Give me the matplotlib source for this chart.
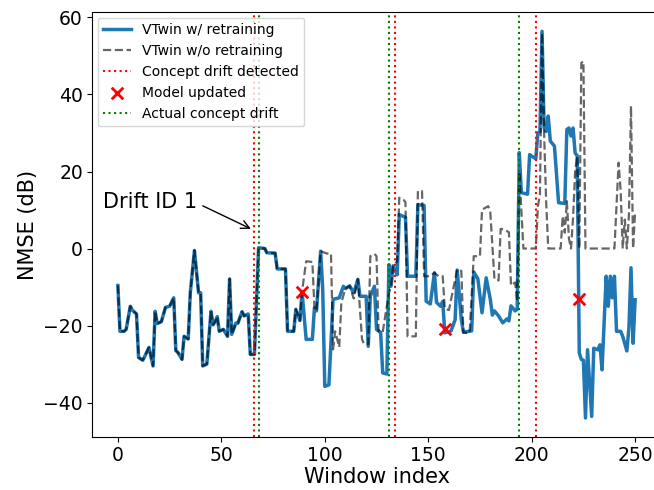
import matplotlib
matplotlib.use("Agg")
import matplotlib.pyplot as plt

# NMSE per window (vertices of the curves), with retraining
retrain_idx = [0, 1, 3, 4, 6, 7, 9, 10, 12, 13, 15, 17, 18, 19, 21, 23, 25, 27, 28, 29,
               31, 32, 34, 35, 37, 39, 40, 41, 43, 45, 46, 47, 48, 49, 51, 53, 54, 55, 57, 58,
               60, 61, 63, 64, 66, 68, 71, 72, 76, 77, 81, 82, 85, 86, 88, 89, 91, 94, 95, 96,
               98, 99, 100, 102, 104, 107, 109, 110, 112, 114, 116, 117, 120, 121, 122, 124, 125, 127, 128, 130,
               131, 132, 133, 135, 136, 139, 140, 144, 145, 148, 149, 151, 153, 154, 156, 157, 158, 161, 163, 164,
               166, 167, 171, 172, 174, 176, 178, 180, 181, 182, 184, 186, 188, 189, 190, 192, 193, 194, 195, 198,
               199, 200, 202, 203, 204, 205, 206, 207, 208, 209, 211, 213, 216, 217, 218, 219, 220, 221, 222, 223,
               224, 225, 226, 227, 229, 230, 232, 233, 234, 236, 237, 238, 239, 240, 241, 243, 244, 246, 247, 248,
               249, 250]
retrain_nmse = [-9.6, -21.5, -21.5, -21, -15, -16, -17, -28.3, -29, -28, -25.7, -30.5, -16.3, -19.5, -19, -15.3, -15, -12.8, -26.5, -27,
                -28.8, -22.8, -23.5, -11.5, -0.5, -11.5, -11.5, -30.5, -30, -16.3, -19.8, -19, -17.7, -21.5, -21, -22.8, -7.9, -22.3, -19.4, -19.4,
                -16.4, -17.5, -17, -27.5, -27.5, 0.2, 0, -1.1, -1.2, -5.3, -5.3, -21.5, -21.5, -15.8, -18.7, -11.2, -23.6, -23.6, -15.4, -16.2,
                -0.7, -10.6, -35.8, -35.4, -13.2, -12.8, -9.8, -10.4, -9.7, -11.5, -8, -12.4, -12.4, -25.4, -12.4, -9.8, -21, -21.8, -32.3, -32.6,
                -4.2, -9.8, -4.5, -6.8, 8.8, 8.1, -7.2, -7.2, 11.4, 11.2, -13.7, -14.4, -6.3, -14, -15, -13.7, -21.9, -21.4, -18.5, -5.6,
                -18.5, -21.7, -21.4, -6.1, -7.9, -16.7, -7.6, -13.2, -17.3, -16.2, -17.5, -19.3, -18.3, -18.8, -14.9, -16.2, -15.8, 24.9, 14.5, 14.1,
                24.4, 24, 23.3, 30, 30.4, 56.4, 31.3, 30.4, 34.4, 27.9, 26.6, 11.9, 11.7, 30.9, 31.3, 29.2, 31.3, 24.8, 24.1, -27.1,
                -28.8, -29, -44, -26.3, -43.6, -25.9, -26.3, -25, -31.5, -7.2, -15, -7.2, -12.8, -7.2, -21.5, -21.5, -22.8, -26.6, -20.6, -5,
                -24.6, -13.3]

# without retraining: identical up to window 89
static_idx = retrain_idx[:56] + [91, 94, 95, 96, 98, 101, 103, 104, 105, 107, 108, 110, 112, 114, 116, 118, 119, 121, 122, 124,
                                 125, 126, 128, 131, 132, 133, 135, 136, 138, 139, 140, 144, 145, 147, 148, 151, 153, 155, 157, 158,
                                 160, 163, 164, 166, 167, 170, 172, 175, 176, 179, 180, 182, 184, 185, 187, 189, 190, 192, 193, 194,
                                 195, 196, 202, 203, 204, 205, 206, 207, 208, 214, 215, 216, 217, 218, 219, 220, 221, 222, 223, 224,
                                 225, 226, 240, 242, 243, 244, 245, 246, 247, 248, 249, 250]
static_nmse = retrain_nmse[:56] + [-3.3, -3.5, -15.4, -16.2, -0.7, -1.3, -1.3, -26.2, -21.5, -25.6, -14, -10.4, -9.7, -13, -8, -23.6, -24.8, -24.8, -2, -1.4,
                                   -2, -21.5, -21.7, -11.5, -9.8, -4.5, -3.3, 13.2, 12.7, 12, -22.8, -22.8, 14.9, 14.9, -7.2, -7.2, -6.3, -7.2, -7.2, -15.6,
                                   -16, -8, -5.4, -5.8, -21.9, -21.9, -2, -2, 10.1, 11, 9.4, -7.9, -8.3, 5.1, 4.9, 4.2, -9.6, -8.8, -13.7, 20,
                                   10, 0, 0, 11, 14, 56, 30, 12, 0, 0, 8.4, 4.1, 12.3, 2.6, 0, 8, 20, 24, 0, 48.2,
                                   48.6, 0, 0, 22.3, 15, 0, 7.5, 0, 8.7, 37, 0, 9.6]

drift_detected = [66, 134, 202]
drift_actual = [68, 131, 194]
update_idx = [89, 158, 223]
update_nmse = [-11.2, -20.9, -13.1]

fig = plt.figure(figsize=(6.54, 4.9), dpi=100)
ax = fig.add_axes([0.1407, 0.1076, 0.870, 0.8679])

ax.plot(retrain_idx, retrain_nmse, color='tab:blue', lw=2.5, label='VTwin w/ retraining')
ax.plot(static_idx, static_nmse, 'k--', lw=1.6, alpha=0.6, label='VTwin w/o retraining')

for k, x in enumerate(drift_detected):
    ax.axvline(x, color='red', ls=':', lw=1.5, label='Concept drift detected' if k == 0 else None)
ax.scatter(update_idx, update_nmse, marker='x', color='red', s=70, lw=2, zorder=5, label='Model updated')
for k, x in enumerate(drift_actual):
    ax.axvline(x, color='green', ls=':', lw=1.5, label='Actual concept drift' if k == 0 else None)

ax.annotate('Drift ID 1', xy=(65.5, 4.8), xytext=(-7, 12), fontsize=15, ha='left', va='center',
            arrowprops=dict(arrowstyle='->', color='black', lw=1, relpos=(1.0, 0.45)))

ax.set_xlabel('Window index', fontsize=15, labelpad=1)
ax.set_ylabel('NMSE (dB)', fontsize=15)
ax.tick_params(labelsize=13.5, pad=3)
ax.legend(loc='upper left', fontsize=10, borderaxespad=0.4)

plt.savefig('out.png', dpi=100)
